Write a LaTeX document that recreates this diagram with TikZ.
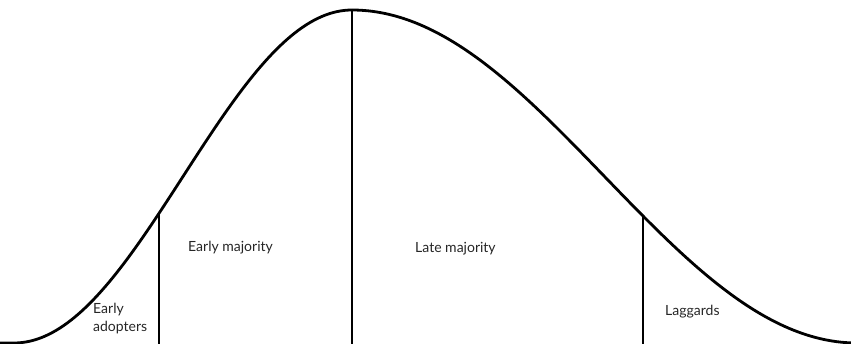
\documentclass[tikz,border=0pt]{standalone}
\usepackage{fontspec}
\setmainfont{Lato}
\begin{document}
\begin{tikzpicture}[x=1pt,y=-1pt,
  curve/.style={line width=2.8pt,line join=round},
  divider/.style={line width=2.8pt},
  lbl/.style={font=\fontsize{14}{18}\selectfont,text=black!85,inner sep=0pt}]
\useasboundingbox (0,0) rectangle (851,344);
\draw[curve] (-5,343) -- (14,343)
  -- plot[domain=14:352,samples=90] (\x,{10+166.5*(1-cos((352-\x)/338*180))})
  -- plot[domain=352:857,samples=120] (\x,{10+166.5*(1-cos((\x-352)/505*180))})
  -- (870,343);
\coordinate (eaTop) at (159,212);
\coordinate (eaBot) at (159,346);
\coordinate (pkTop) at (352,9);
\coordinate (pkBot) at (352,346);
\coordinate (lgTop) at (643,215);
\coordinate (lgBot) at (643,346);
\draw[divider] (eaTop) -- (eaBot);
\draw[divider] (pkTop) -- (pkBot);
\draw[divider] (lgTop) -- (lgBot);
\node[lbl,anchor=west,align=left] (adopters) at (93,319) {Early\\adopters};
\node[lbl,anchor=base west] (earlymaj) at (188,252) {Early majority};
\node[lbl,anchor=base west] (latemaj) at (415,253) {Late majority};
\node[lbl,anchor=base west] (laggards) at (665,316) {Laggards};
\end{tikzpicture}
\end{document}
